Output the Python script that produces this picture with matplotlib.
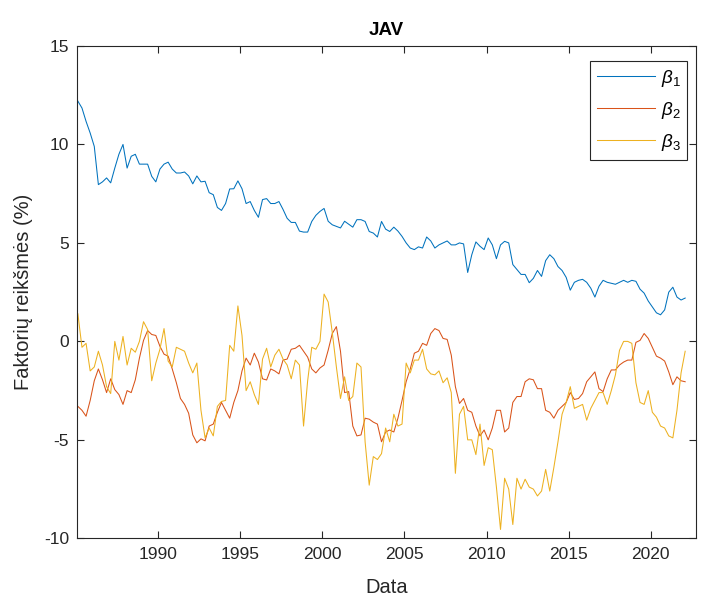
import numpy as np
import matplotlib
matplotlib.use('Agg')
import matplotlib.pyplot as plt

# ketvirtiniai faktorių įverčiai, pradedant 1985 m. vasariu
start_year = 1985.1
step = 0.25

beta1 = [12.2, 11.85, 11.17, 10.58, 9.9, 7.96, 8.1, 8.3, 8.05, 8.8,
         9.5, 10.0, 8.8, 9.4, 9.5, 9.0, 9.0, 9.0, 8.38, 8.1,
         8.75, 9.0, 9.1, 8.75, 8.55, 8.55, 8.6, 8.4, 8.0, 8.4,
         8.1, 8.13, 7.55, 7.45, 6.8, 6.65, 7.0, 7.74, 7.75, 8.15,
         7.75, 7.0, 7.1, 6.65, 6.3, 7.2, 7.25, 7.0, 7.0, 7.1,
         6.7, 6.25, 6.04, 6.04, 5.6, 5.55, 5.55, 6.09, 6.4, 6.6,
         6.75, 6.1, 5.92, 5.84, 5.76, 6.1, 5.95, 5.8, 6.18, 6.18,
         6.09, 5.58, 5.5, 5.3, 6.09, 5.7, 5.58, 5.8, 5.6, 5.33,
         5.0, 4.74, 4.66, 4.8, 4.74, 5.3, 5.1, 4.74, 4.9, 5.0,
         5.1, 4.9, 4.9, 5.0, 4.95, 3.5, 4.4, 5.05, 4.83, 4.66,
         5.25, 4.9, 4.2, 4.9, 5.08, 5.0, 3.9, 3.65, 3.4, 3.4,
         2.98, 3.2, 3.6, 3.3, 4.1, 4.4, 4.2, 3.8, 3.6, 3.25,
         2.6, 3.0, 3.1, 3.15, 3.0, 2.7, 2.25, 2.8, 3.1, 3.0,
         2.95, 2.9, 3.0, 3.1, 3.0, 3.1, 3.05, 2.65, 2.45, 2.05,
         1.75, 1.45, 1.35, 1.6, 2.5, 2.75, 2.25, 2.1, 2.2]

beta2 = [-3.3, -3.5, -3.8, -3.0, -2.0, -1.4, -1.95, -2.6, -1.9, -2.45,
         -2.7, -3.2, -2.5, -2.6, -1.95, -0.85, 0.05, 0.55, 0.35, 0.3,
         -0.25, -0.65, -0.75, -1.4, -2.1, -2.9, -3.2, -3.65, -4.75, -5.15,
         -4.95, -5.05, -4.3, -4.2, -3.6, -3.1, -3.5, -3.9, -3.1, -2.5,
         -1.5, -0.85, -1.2, -0.6, -1.05, -1.9, -1.96, -1.4, -1.5, -1.65,
         -0.95, -0.9, -0.4, -0.35, -0.2, -0.5, -0.8, -1.4, -1.6, -1.35,
         -1.2, -0.45, 0.4, 0.75, -0.5, -2.6, -2.55, -4.3, -4.8, -4.75,
         -3.9, -3.95, -4.1, -4.2, -5.1, -4.6, -4.5, -4.6, -3.9, -3.0,
         -2.05, -1.4, -0.6, -0.5, -0.1, -0.2, 0.4, 0.65, 0.55, 0.15,
         0.1, -0.7, -2.3, -3.15, -2.9, -3.5, -3.6, -4.3, -4.8, -4.5,
         -5.0, -4.4, -3.5, -3.5, -4.6, -4.4, -3.1, -2.8, -2.8, -2.05,
         -1.9, -1.95, -2.4, -2.4, -3.5, -3.6, -3.9, -3.5, -3.3, -3.1,
         -2.6, -2.95, -2.9, -2.65, -2.05, -1.8, -1.55, -2.4, -2.55, -1.9,
         -1.45, -1.45, -1.2, -1.05, -0.95, -0.95, -0.05, 0.05, 0.4, 0.15,
         -0.3, -0.75, -0.85, -1.0, -1.55, -2.2, -1.8, -2.0, -2.05]

beta3 = [1.4, -0.3, -0.1, -1.5, -1.3, -0.5, -1.2, -2.3, -2.65, 0.0,
         -0.95, 0.25, -1.2, -0.35, -0.55, 0.0, 1.0, 0.6, -2.0, -1.1,
         -0.4, 0.65, -1.0, -1.3, -0.3, -0.4, -0.5, -1.1, -1.6, -1.1,
         -3.5, -4.9, -4.4, -4.8, -3.3, -3.05, -3.0, -0.2, -0.5, 1.8,
         0.3, -2.5, -2.05, -2.7, -3.2, -0.9, -0.35, -1.3, -0.7, -0.4,
         -0.9, -1.2, -1.9, -0.95, -1.2, -4.3, -2.0, -0.3, -0.4, 0.0,
         2.4, 2.0, 0.45, -1.3, -2.9, -1.8, -3.0, -2.8, -1.1, -1.3,
         -5.1, -7.3, -5.85, -6.0, -5.7, -4.4, -5.1, -3.7, -4.3, -4.2,
         -1.1, -1.6, -0.95, -0.95, -0.4, -1.4, -1.65, -1.7, -1.5, -2.1,
         -1.85, -2.6, -6.7, -3.7, -3.3, -5.0, -5.0, -5.75, -4.2, -6.3,
         -5.4, -5.5, -7.4, -9.55, -6.95, -7.5, -9.3, -6.95, -7.5, -7.0,
         -7.4, -7.5, -7.85, -7.6, -6.5, -7.6, -6.4, -5.1, -3.7, -3.1,
         -2.3, -3.4, -3.3, -3.2, -4.0, -3.4, -3.0, -2.6, -2.6, -3.2,
         -2.5, -1.7, -0.45, 0.0, 0.0, -0.1, -2.1, -3.1, -3.2, -2.5,
         -3.6, -3.85, -4.3, -4.4, -4.8, -4.9, -3.5, -1.6, -0.5]

labels = [r'$\beta_1$', r'$\beta_2$', r'$\beta_3$']
colors = ['#0072BD', '#D95319', '#EDB120']
xticks = [1990, 1995, 2000, 2005, 2010, 2015, 2020]
yticks = [-10, -5, 0, 5, 10, 15]

plt.rcParams['font.family'] = ['Liberation Sans', 'DejaVu Sans']
plt.rcParams['mathtext.fontset'] = 'custom'
plt.rcParams['mathtext.it'] = 'Liberation Sans:italic'
plt.rcParams['mathtext.rm'] = 'Liberation Sans'
plt.rcParams['axes.unicode_minus'] = False

years = start_year + step * np.arange(len(beta1))

fig = plt.figure(figsize=(7.13, 6.01), dpi=100)
ax = fig.add_axes([0.1084, 0.1043, 0.8673, 0.8192])

for series, lab, col in zip([beta1, beta2, beta3], labels, colors):
    ax.plot(years, series, color=col, lw=0.75, label=lab)

ax.set_xlim(1985.065, 2022.74)
ax.set_ylim(-10, 15)
ax.set_xticks(xticks)
ax.set_yticks(yticks)
ax.set_xticklabels([str(t) for t in xticks])
ax.set_yticklabels([str(t) for t in yticks])

dark = '#262626'
for sp in ax.spines.values():
    sp.set_color(dark)
    sp.set_linewidth(0.8)
ax.tick_params(direction='in', top=True, right=True, length=5, width=0.8,
               colors=dark, labelsize=12.5, pad=6)

ax.set_title('JAV', fontsize=13.5, fontweight='bold', color='black', pad=8)
ax.set_xlabel('Data', fontsize=14.5, color=dark, labelpad=12)
ax.set_ylabel('Faktorių reikšmės (%)', fontsize=14.5, color=dark, labelpad=8)

leg = ax.legend(loc='upper right', bbox_to_anchor=(0.986, 0.9695), borderaxespad=0,
                fontsize=13.5, handlelength=3.1, labelspacing=0.6, handletextpad=0.3,
                borderpad=0.35, fancybox=False, framealpha=1)
leg.get_frame().set_edgecolor(dark)
leg.get_frame().set_linewidth(0.8)

fig.savefig('out.png', dpi=100)
